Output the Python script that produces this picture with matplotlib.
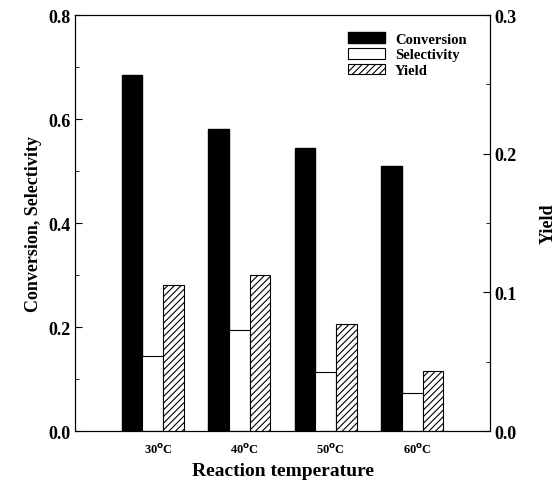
import numpy as np
import matplotlib.pyplot as plt
from matplotlib.ticker import MultipleLocator

plt.rcParams['font.family'] = ['Liberation Serif', 'DejaVu Serif']
plt.rcParams['font.weight'] = 'bold'
plt.rcParams['hatch.linewidth'] = 0.8

temps = ['30$^{\\mathbf{o}}$C', '40$^{\\mathbf{o}}$C', '50$^{\\mathbf{o}}$C', '60$^{\\mathbf{o}}$C']
conversion = [0.685, 0.580, 0.545, 0.510]
selectivity = [0.144, 0.194, 0.113, 0.073]
yld = [0.105, 0.1125, 0.077, 0.043]

x = np.arange(len(temps))
w = 0.24

fig = plt.figure(figsize=(5.6, 4.85), dpi=100)
ax = fig.add_axes([0.134, 0.109, 0.741, 0.858])
ax2 = ax.twinx()

b1 = ax.bar(x - w, conversion, w, color='black', edgecolor='black', label='Conversion')
b2 = ax.bar(x, selectivity, w, color='white', edgecolor='black', linewidth=0.8, label='Selectivity')
b3 = ax2.bar(x + w, yld, w, color='white', edgecolor='black', linewidth=0.8, hatch='/////', label='Yield')

ax.set_xlim(-0.9, 3.9)
ax.set_ylim(0, 0.8)
ax2.set_ylim(0, 0.3)

ax.set_xticks(x + 0.06)
ax.set_xticklabels(temps, fontsize=9)
ax.tick_params(axis='x', length=0, pad=8)

ax.yaxis.set_major_locator(MultipleLocator(0.2))
ax.yaxis.set_minor_locator(MultipleLocator(0.1))
ax2.yaxis.set_major_locator(MultipleLocator(0.1))
ax2.yaxis.set_minor_locator(MultipleLocator(0.05))
for a in (ax, ax2):
    a.tick_params(axis='y', which='both', direction='in', labelsize=13)
    a.tick_params(axis='y', which='major', length=5)
    a.tick_params(axis='y', which='minor', length=3)
ax.yaxis.set_major_formatter(plt.FormatStrFormatter('%.1f'))
ax2.yaxis.set_major_formatter(plt.FormatStrFormatter('%.1f'))

ax.set_xlabel('Reaction temperature', fontsize=14, fontweight='bold')
ax.set_ylabel('Conversion, Selectivity', fontsize=13, fontweight='bold')
ax2.set_ylabel('Yield', fontsize=13, fontweight='bold', rotation=90, labelpad=16)

ax2.legend([b1, b2, b3], ['Conversion', 'Selectivity', 'Yield'], loc='upper right',
           bbox_to_anchor=(0.975, 0.99), frameon=False, fontsize=10.5,
           handlelength=2.5, handleheight=0.75, labelspacing=0.15, handletextpad=0.7)

fig.savefig('out.png', dpi=100)
